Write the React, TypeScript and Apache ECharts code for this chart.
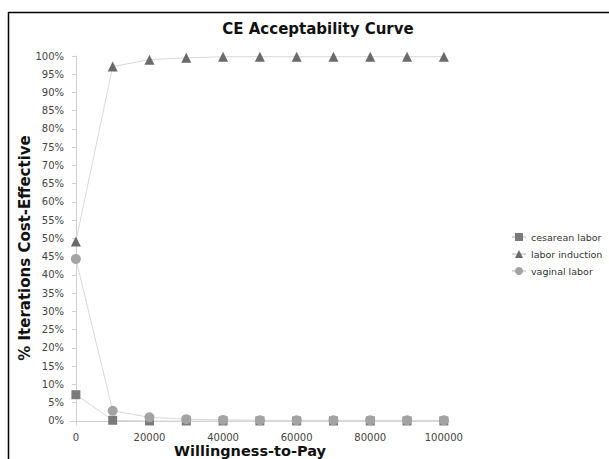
import React, { useEffect, useRef } from "react";
import * as echarts from "echarts";

const wtp = [0, 10000, 20000, 30000, 40000, 50000, 60000, 70000, 80000, 90000, 100000];
const cesarean = [7.2, 0.2, 0, 0, 0, 0, 0, 0, 0, 0, 0];
const induction = [49.2, 97.1, 99.0, 99.5, 99.8, 99.8, 99.8, 99.8, 99.8, 99.8, 99.8];
const vaginal = [44.4, 2.8, 1.0, 0.5, 0.3, 0.2, 0.2, 0.2, 0.2, 0.2, 0.2];
const xTicks = [0, 20000, 40000, 60000, 80000, 100000];
const yTicks = [0, 5, 10, 15, 20, 25, 30, 35, 40, 45, 50, 55, 60, 65, 70, 75, 80, 85, 90, 95, 100];

const FONT = "DejaVu Sans";

export default function App() {
  const ref = useRef<HTMLDivElement>(null);
  useEffect(() => {
    document.body.style.margin = "0";
    const chart = echarts.init(ref.current!, null, { renderer: "svg" });
    const mk = (name: string, data: number[], symbol: string, color: string, size: number) => ({
      name,
      type: "line",
      data: wtp.map((x, i) => [x, data[i]]),
      symbol,
      symbolSize: size,
      itemStyle: { color },
      lineStyle: { color: "#d8d8d8", width: 1 },
      emphasis: { disabled: true },
    });
    chart.setOption({
      animation: false,
      graphic: [
        { type: "line", shape: { x1: 8.5, y1: 12, x2: 8.5, y2: 459 }, style: { stroke: "#000", lineWidth: 1.5 } },
        { type: "line", shape: { x1: 8, y1: 12.5, x2: 609, y2: 12.5 }, style: { stroke: "#000", lineWidth: 1.5 } },
        {
          type: "text",
          x: 318,
          y: 29,
          style: {
            text: "CE Acceptability Curve",
            font: `bold 15px ${FONT}`,
            fill: "#111",
            align: "center",
            verticalAlign: "middle",
          },
        },
        {
          type: "text",
          x: 250,
          y: 451,
          style: {
            text: "Willingness-to-Pay",
            font: `bold 14.5px ${FONT}`,
            fill: "#111",
            align: "center",
            verticalAlign: "middle",
          },
        },
        {
          type: "text",
          x: 25,
          y: 248,
          rotation: Math.PI / 2,
          style: {
            text: "% Iterations Cost-Effective",
            font: `bold 15px ${FONT}`,
            fill: "#111",
            align: "center",
            verticalAlign: "middle",
          },
        },
      ],
      legend: {
        orient: "vertical",
        left: 506,
        top: 227,
        itemGap: 7,
        itemWidth: 14,
        itemHeight: 10,
        textStyle: { fontFamily: FONT, fontSize: 9.5, color: "#333" },
        data: ["cesarean labor", "labor induction", "vaginal labor"],
      },
      grid: { left: 70, right: 160, top: 56, bottom: 34, containLabel: false },
      xAxis: {
        type: "value",
        min: -1600,
        max: 101400,
        axisLine: { lineStyle: { color: "#d0d0d0", width: 1 } },
        axisTick: { show: true, customValues: xTicks, length: 4, lineStyle: { color: "#d0d0d0" } },
        axisLabel: {
          customValues: xTicks,
          formatter: (v: number) => String(v),
          fontFamily: FONT,
          fontSize: 10,
          color: "#444",
          margin: 7,
        },
        splitLine: { show: false },
      },
      yAxis: {
        type: "value",
        min: -1.1,
        max: 100,
        axisLine: { show: true, lineStyle: { color: "#d0d0d0", width: 1 } },
        axisTick: { show: true, customValues: yTicks, length: 4, lineStyle: { color: "#d0d0d0" } },
        axisLabel: {
          customValues: yTicks,
          formatter: (v: number) => `${v}%`,
          fontFamily: FONT,
          fontSize: 10,
          color: "#444",
          margin: 6,
        },
        splitLine: { show: false },
      },
      series: [
        mk("cesarean labor", cesarean, "rect", "#7a7a7a", 9),
        mk("labor induction", induction, "triangle", "#6a6a6a", 10),
        mk("vaginal labor", vaginal, "circle", "#a3a3a3", 10),
      ],
    });
    return () => chart.dispose();
  }, []);
  return <div ref={ref} style={{ width: 609, height: 459 }} />;
}
